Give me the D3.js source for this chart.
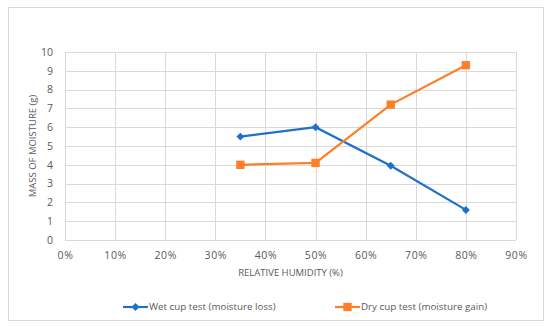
<!DOCTYPE html>
<html>
<head>
<meta charset="utf-8">
<script src="https://cdn.jsdelivr.net/npm/d3@7"></script>
<style>
    body { margin: 0; background: #fff; }
    svg text { font-family: "Open Sans", "Liberation Sans", sans-serif; fill: #595959; }
</style>
</head>
<body>
<div id="chart"></div>
<script>
// data
const humidity = [0.35, 0.50, 0.65, 0.80];
const wetCup = [5.5, 6.0, 3.95, 1.6];
const dryCup = [4.0, 4.1, 7.2, 9.3];
const seriesNames = ["Wet cup test (moisture loss)", "Dry cup test (moisture gain)"];
const xTicks = [0, 0.1, 0.2, 0.3, 0.4, 0.5, 0.6, 0.7, 0.8, 0.9];
const yTicks = [0, 1, 2, 3, 4, 5, 6, 7, 8, 9, 10];

const width = 550, height = 327;
const plot = { left: 65, right: 516, top: 52, bottom: 240 };

const svg = d3.select("#chart").append("svg")
    .attr("width", width)
    .attr("height", height);

// chart frame
svg.append("rect")
    .attr("x", 8.5).attr("y", 7.5)
    .attr("width", 535).attr("height", 313)
    .attr("fill", "#fff")
    .attr("stroke", "#d9d9d9");

const x = d3.scaleLinear().domain([0, 0.9]).range([plot.left, plot.right]);
const y = d3.scaleLinear().domain([0, 10]).range([plot.bottom, plot.top]);

// gridlines
svg.append("g")
    .selectAll("line.h")
    .data(yTicks)
    .join("line")
    .attr("x1", plot.left).attr("x2", plot.right)
    .attr("y1", d => Math.round(y(d)) + 0.5).attr("y2", d => Math.round(y(d)) + 0.5)
    .attr("stroke", "#d9d9d9");

svg.append("g")
    .selectAll("line.v")
    .data(xTicks)
    .join("line")
    .attr("y1", plot.top).attr("y2", plot.bottom)
    .attr("x1", d => Math.round(x(d)) + 0.5).attr("x2", d => Math.round(x(d)) + 0.5)
    .attr("stroke", "#d9d9d9");

// axis labels
const yAxis = svg.append("g")
    .attr("transform", `translate(${plot.left - 6},0)`)
    .call(d3.axisLeft(y).tickValues(yTicks).tickSize(0).tickPadding(6));
yAxis.select(".domain").remove();
yAxis.selectAll("text").attr("font-size", 10.5).attr("fill", "#595959");

const xAxis = svg.append("g")
    .attr("transform", `translate(0,${plot.bottom + 6})`)
    .call(d3.axisBottom(x).tickValues(xTicks).tickFormat(d3.format(".0%")).tickSize(0).tickPadding(6));
xAxis.select(".domain").remove();
xAxis.selectAll("text").attr("font-size", 10.5).attr("fill", "#595959").attr("letter-spacing", 0.6);

// axis titles
svg.append("text")
    .attr("x", (plot.left + plot.right) / 2)
    .attr("y", 276)
    .attr("text-anchor", "middle")
    .attr("font-size", 9.5)
    .text("RELATIVE HUMIDITY (%)");

svg.append("text")
    .attr("transform", `translate(36,${(plot.top + plot.bottom) / 2}) rotate(-90)`)
    .attr("text-anchor", "middle")
    .attr("font-size", 9.5)
    .text("MASS OF MOISTURE (g)");

// series
const colors = ["#1f6fcb", "#ff7f27"];
const line = d3.line().x(d => x(d[0])).y(d => y(d[1]));
const wetPts = humidity.map((h, i) => [h, wetCup[i]]);
const dryPts = humidity.map((h, i) => [h, dryCup[i]]);

svg.append("path").datum(wetPts)
    .attr("d", line).attr("fill", "none")
    .attr("stroke", colors[0]).attr("stroke-width", 2.2);
svg.append("path").datum(dryPts)
    .attr("d", line).attr("fill", "none")
    .attr("stroke", colors[1]).attr("stroke-width", 2.2);

const diamond = d3.symbol().type(d3.symbolDiamond2).size(40);
const square = d3.symbol().type(d3.symbolSquare).size(70);

svg.append("g").selectAll("path")
    .data(wetPts).join("path")
    .attr("d", diamond)
    .attr("transform", d => `translate(${x(d[0])},${y(d[1])})`)
    .attr("fill", colors[0]);

svg.append("g").selectAll("path")
    .data(dryPts).join("path")
    .attr("d", square)
    .attr("transform", d => `translate(${x(d[0])},${y(d[1])})`)
    .attr("fill", colors[1]);

// legend
const legendX = [123, 335];
const legendY = 307;
const legend = svg.append("g").selectAll("g")
    .data(seriesNames).join("g")
    .attr("transform", (d, i) => `translate(${legendX[i]},${legendY})`);

legend.append("line")
    .attr("x1", 0).attr("x2", 25)
    .attr("stroke", (d, i) => colors[i]).attr("stroke-width", 2.2);
legend.append("path")
    .attr("d", (d, i) => i === 0 ? diamond() : square())
    .attr("transform", "translate(12.5,0)")
    .attr("fill", (d, i) => colors[i]);
legend.append("text")
    .attr("x", 26).attr("dy", "0.35em")
    .attr("font-size", 9.8)
    .text(d => d);
</script>
</body>
</html>
